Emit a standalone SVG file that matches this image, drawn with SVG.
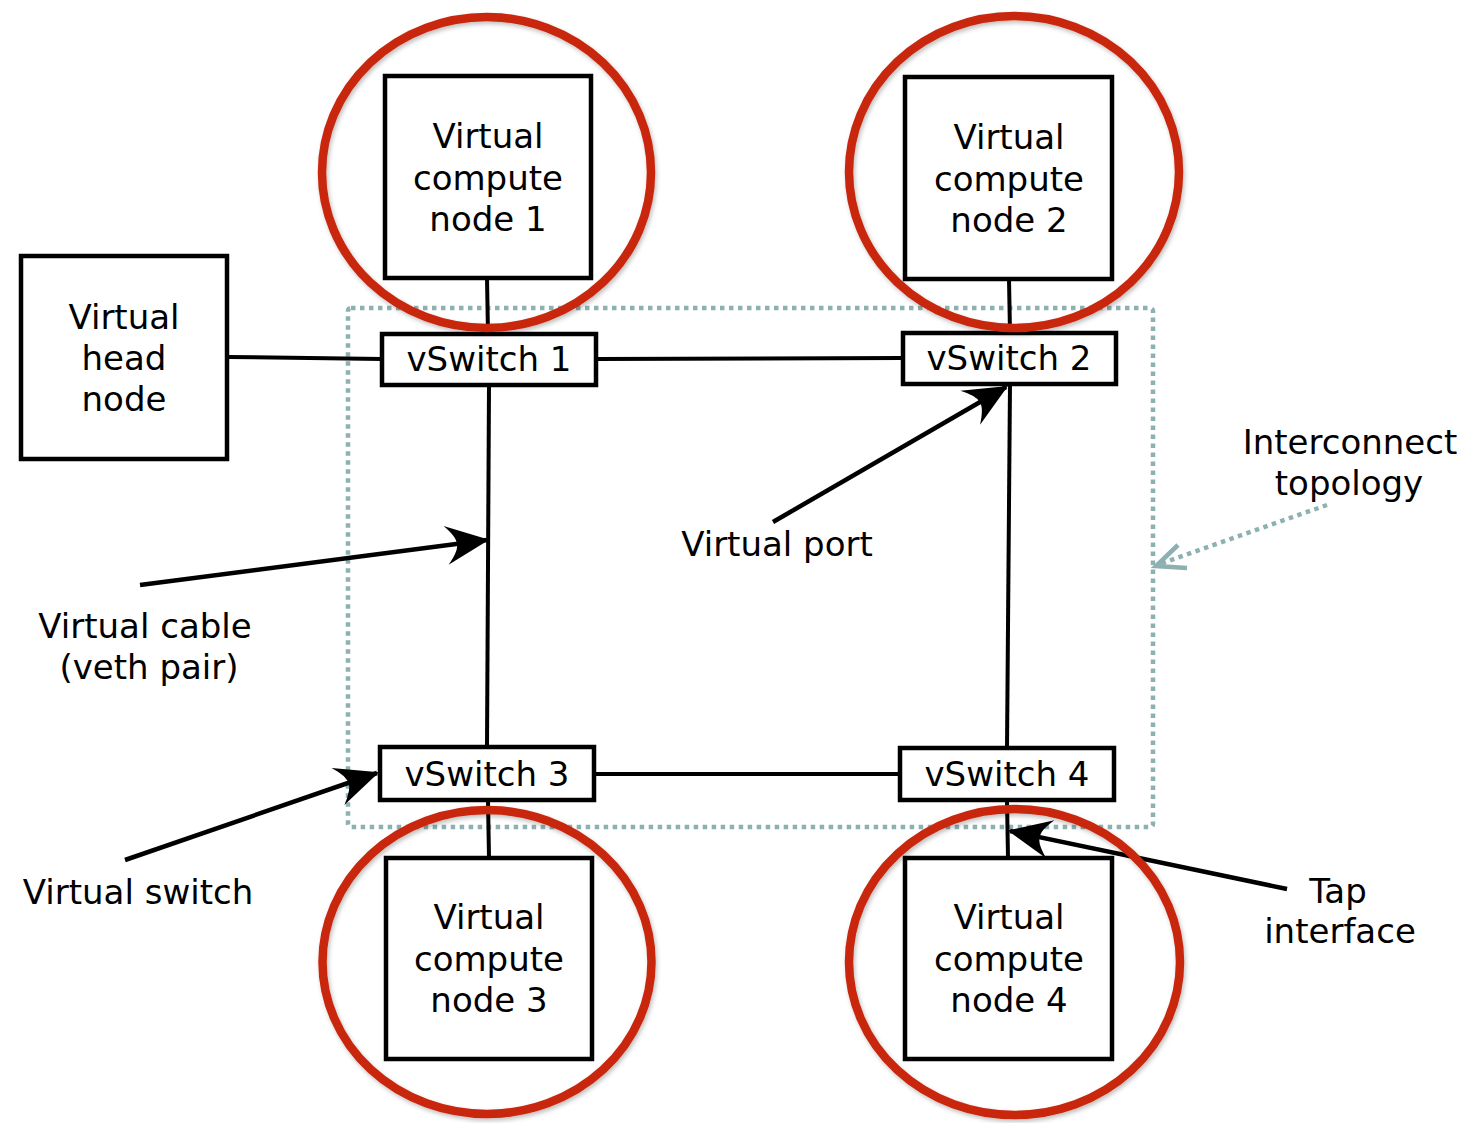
<svg xmlns="http://www.w3.org/2000/svg" width="1460" height="1123" viewBox="0 0 1460 1123">
  <defs>
    <style>
      .box { fill: #ffffff; stroke: #000000; stroke-width: 4.5; }
      .wire { fill: none; stroke: #000000; stroke-width: 4; }
      .pointer { fill: none; stroke: #000000; stroke-width: 4.5; }
      .ring { fill: none; stroke: #c8260b; stroke-width: 8.5; filter: url(#soft); }
      .zone { fill: none; stroke: #8db1b1; stroke-width: 4.5; stroke-dasharray: 4.5 4.5; }
      .label { font-family: "DejaVu Sans", "Liberation Sans", sans-serif; font-size: 34px; fill: #000000; text-anchor: middle; }
    </style>
    <filter id="soft" x="-10%" y="-10%" width="120%" height="120%">
      <feDropShadow dx="1.5" dy="2.5" stdDeviation="2" flood-color="#000000" flood-opacity="0.25"/>
    </filter>
    <marker id="head" markerUnits="userSpaceOnUse" markerWidth="50" markerHeight="50" viewBox="-42 -22 46 44" refX="0" refY="0" orient="auto">
      <path d="M 2 0 L -38 -18 Q -27 -6 -28 0 Q -27 6 -38 18 Z" fill="#000000"/>
    </marker>
  </defs>

  <!-- interconnect area -->
  <rect class="zone" x="348" y="308" width="805" height="519" rx="3"/>

  <!-- connectors -->
  <g id="connectors">
    <line class="wire" x1="228" y1="357" x2="382" y2="359"/>
    <line class="wire" x1="596" y1="359" x2="903" y2="358"/>
    <line class="wire" x1="489" y1="386" x2="487" y2="747"/>
    <line class="wire" x1="1010" y1="384" x2="1007" y2="748"/>
    <line class="wire" x1="594" y1="774" x2="900" y2="774"/>
    <line class="wire" x1="487" y1="278" x2="488" y2="334"/>
    <line class="wire" x1="1009" y1="279" x2="1010" y2="333"/>
    <line class="wire" x1="488" y1="800" x2="489" y2="858"/>
    <line class="wire" x1="1007" y1="800" x2="1008" y2="858"/>

    <!-- callout pointers -->
    <line class="pointer" x1="140" y1="585" x2="487" y2="540" marker-end="url(#head)"/>
    <line class="pointer" x1="773" y1="522" x2="1006" y2="387" marker-end="url(#head)"/>
    <line class="pointer" x1="125" y1="860" x2="377" y2="773" marker-end="url(#head)"/>
    <line class="pointer" x1="1287" y1="889" x2="1010" y2="831" marker-end="url(#head)"/>

    <!-- dotted pointer to the interconnect area -->
    <line x1="1327" y1="505" x2="1160" y2="564" stroke="#8db1b1" stroke-width="4.5" stroke-dasharray="4.5 4.5"/>
    <polyline points="1178,545 1156,566 1187,568" fill="none" stroke="#8db1b1" stroke-width="4.5"/>
  </g>

  <!-- head node -->
  <g id="head-node">
    <rect class="box" x="21" y="256" width="206" height="203"/>
    <text class="label" x="124" y="329">Virtual</text>
    <text class="label" x="124" y="370">head</text>
    <text class="label" x="124" y="411">node</text>
  </g>

  <!-- compute nodes -->
  <g id="compute-1">
    <rect class="box" x="385" y="76" width="206" height="202"/>
    <text class="label" x="488" y="148">Virtual</text>
    <text class="label" x="488" y="190">compute</text>
    <text class="label" x="488" y="231">node 1</text>
  </g>
  <g id="compute-2">
    <rect class="box" x="905" y="77" width="207" height="202"/>
    <text class="label" x="1009" y="149">Virtual</text>
    <text class="label" x="1009" y="191">compute</text>
    <text class="label" x="1009" y="232">node 2</text>
  </g>
  <g id="compute-3">
    <rect class="box" x="386" y="858" width="206" height="201"/>
    <text class="label" x="489" y="929">Virtual</text>
    <text class="label" x="489" y="971">compute</text>
    <text class="label" x="489" y="1012">node 3</text>
  </g>
  <g id="compute-4">
    <rect class="box" x="905" y="858" width="207" height="201"/>
    <text class="label" x="1009" y="929">Virtual</text>
    <text class="label" x="1009" y="971">compute</text>
    <text class="label" x="1009" y="1012">node 4</text>
  </g>

  <!-- virtual switches -->
  <g id="vswitch-1">
    <rect class="box" x="382" y="334" width="214" height="51"/>
    <text class="label" x="489" y="371">vSwitch 1</text>
  </g>
  <g id="vswitch-2">
    <rect class="box" x="903" y="333" width="213" height="51"/>
    <text class="label" x="1009" y="370">vSwitch 2</text>
  </g>
  <g id="vswitch-3">
    <rect class="box" x="380" y="747" width="214" height="53"/>
    <text class="label" x="487" y="786">vSwitch 3</text>
  </g>
  <g id="vswitch-4">
    <rect class="box" x="900" y="748" width="214" height="52"/>
    <text class="label" x="1007" y="786">vSwitch 4</text>
  </g>

  <!-- highlight rings around the compute nodes -->
  <g id="rings">
    <ellipse class="ring" cx="486.5" cy="172.5" rx="164.5" ry="155.5"/>
    <ellipse class="ring" cx="1014" cy="172" rx="165" ry="156"/>
    <ellipse class="ring" cx="487" cy="962" rx="164.5" ry="152"/>
    <ellipse class="ring" cx="1014.5" cy="962" rx="165.5" ry="153"/>
  </g>

  <!-- callout texts -->
  <g id="callouts">
    <text class="label" x="1350" y="454">Interconnect</text>
    <text class="label" x="1349" y="495">topology</text>
    <text class="label" x="777" y="556">Virtual port</text>
    <text class="label" x="145" y="638">Virtual cable</text>
    <text class="label" x="149" y="679">(veth pair)</text>
    <text class="label" x="138" y="904">Virtual switch</text>
    <text class="label" x="1338" y="903">Tap</text>
    <text class="label" x="1340" y="943">interface</text>
  </g>
</svg>
